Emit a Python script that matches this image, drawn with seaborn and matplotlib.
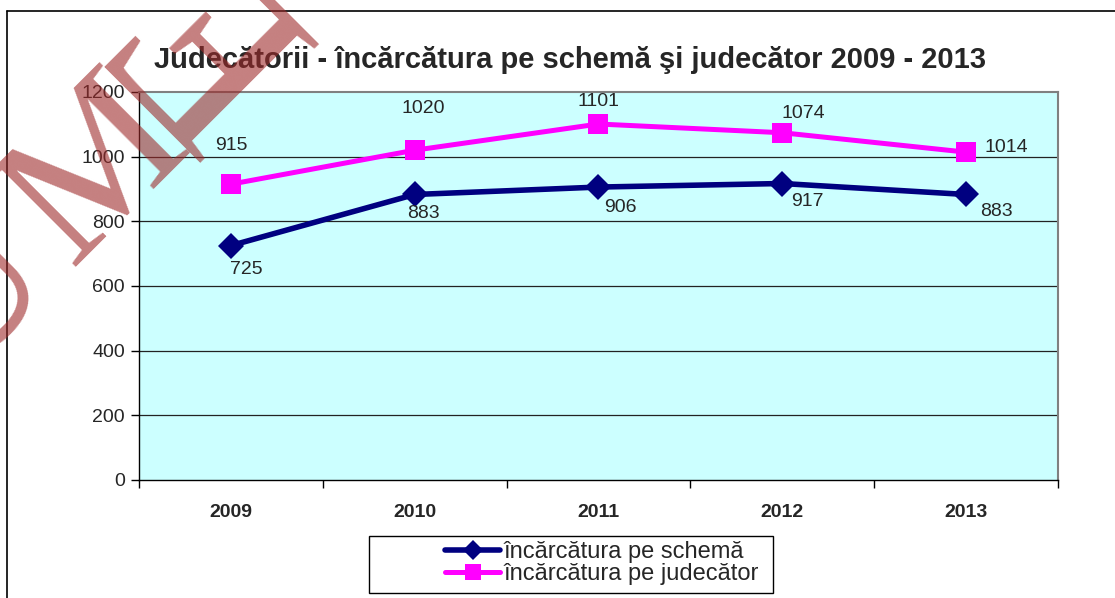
import matplotlib
matplotlib.use("Agg")
import matplotlib.pyplot as plt
import seaborn as sns
import pandas as pd
from matplotlib.lines import Line2D
from matplotlib.patches import Rectangle

years = ["2009", "2010", "2011", "2012", "2013"]
schema = [725, 883, 906, 917, 883]
judecator = [915, 1020, 1101, 1074, 1014]
series_names = ["încărcătura pe schemă", "încărcătura pe judecător"]
title = "Judecătorii - încărcătura pe schemă şi judecător 2009 - 2013"
yticks = [0, 200, 400, 600, 800, 1000, 1200]
watermark_letters = ["U", "M", "Ǝ"]

sns.set_style("white")
plt.rcParams["font.family"] = ["Liberation Sans", "DejaVu Sans"]

df = pd.DataFrame({
    "x": list(range(len(years))) * 2,
    "val": schema + judecator,
    "serie": [series_names[0]] * len(years) + [series_names[1]] * len(years),
})

fig = plt.figure(figsize=(11.15, 5.98), dpi=100)
W, H = 1115, 598
ax = fig.add_axes([139 / W, 1 - 480 / H, (1058 - 139) / W, (480 - 92) / H])
ax.set_facecolor("#CCFFFF")

colors = {series_names[0]: "#000080", series_names[1]: "#FF00FF"}
sns.lineplot(data=df, x="x", y="val", hue="serie", style="serie",
             markers={series_names[0]: "D", series_names[1]: "s"},
             dashes=False, palette=colors, ax=ax, legend=False)
lw = {series_names[0]: 4.0, series_names[1]: 3.6}
ms = {series_names[0]: 13, series_names[1]: 14}
for line, name in zip(ax.get_lines(), series_names):
    line.set_linewidth(lw[name])
    line.set_markersize(ms[name])
    line.set_markeredgewidth(0)
    line.set_zorder(3)

ax.set_xlim(-0.5, len(years) - 0.5)
ax.set_ylim(0, 1200)
ax.set_yticks(yticks)
ax.set_yticklabels([str(v) for v in yticks], fontsize=14)
ax.set_xticks([i - 0.5 for i in range(len(years) + 1)])
ax.set_xticklabels([])
ax.set_xticks(range(len(years)), minor=True)
ax.set_xticklabels(years, minor=True, fontsize=14, fontweight="bold")
ax.tick_params(axis="x", which="major", direction="out", length=6, width=1, color="black", bottom=True)
ax.tick_params(axis="x", which="minor", length=0, pad=17)
ax.tick_params(axis="y", direction="out", length=6, width=1, color="black", left=True, pad=4)
ax.set_xlabel("")
ax.set_ylabel("")
for y in yticks[1:-1]:
    ax.axhline(y, color="#222222", lw=0.9, zorder=1)
for side in ["top", "right"]:
    ax.spines[side].set_color("#808080")
    ax.spines[side].set_linewidth(1.5)
for side in ["left", "bottom"]:
    ax.spines[side].set_color("black")
    ax.spines[side].set_linewidth(1.0)

# data labels
offs_j = [(0, 28), (6, 30), (0, 16), (15, 14), (29, 3)]
offs_s = [(11, -17), (6, -14), (16, -15), (18, -13), (22, -12)]
for i, v in enumerate(judecator):
    ax.annotate(str(v), (i, v), xytext=offs_j[i], textcoords="offset points",
                ha="center", va="center", fontsize=14, zorder=4)
for i, v in enumerate(schema):
    ax.annotate(str(v), (i, v), xytext=offs_s[i], textcoords="offset points",
                ha="center", va="center", fontsize=14, zorder=4)

fig.text(570 / W, 1 - 60 / H, title, ha="center", va="center",
         fontsize=21, fontweight="bold")

# outer chart frame
fig.add_artist(Line2D([7 / W, 1], [1 - 11 / H, 1 - 11 / H], color="black", lw=1.2, transform=fig.transFigure))
fig.add_artist(Line2D([7 / W, 7 / W], [0, 1 - 11 / H], color="black", lw=1.2, transform=fig.transFigure))

# legend box + legend
fig.add_artist(Rectangle((369 / W, 1 - 593 / H), 404 / W, 57 / H, transform=fig.transFigure,
                         facecolor="white", edgecolor="black", lw=1.0, zorder=5))
handles = [Line2D([], [], color=colors[n], lw=lw[n], marker=m, markersize=s - 2, markeredgewidth=0)
           for n, m, s in zip(series_names, ["D", "s"], [12, 14])]
leg = fig.legend(handles, series_names, loc="center left",
                 bbox_to_anchor=(445 / W, 1 - 563 / H), bbox_transform=fig.transFigure,
                 frameon=False, fontsize=17, handlelength=2.35,
                 handletextpad=0.12, labelspacing=0.0, borderpad=0,
                 borderaxespad=0)
leg.set_zorder(6)

# watermark (red stamp showing through the page)
wm_pos = [(8, 330), (132, 206), (145, 122)]
wm_rot = [45, 45, -45]
wm_size = [140, 140, 185]
for ch, (px, py), rot, fs in zip(watermark_letters, wm_pos, wm_rot, wm_size):
    fig.text(px / W, 1 - py / H, ch, rotation=rot, rotation_mode="anchor",
             ha="center", va="baseline", fontsize=fs,
             family=["Liberation Serif", "DejaVu Serif"],
             color="#9E2A2A", alpha=0.6, zorder=10)

fig.savefig("out.png", dpi=100)
